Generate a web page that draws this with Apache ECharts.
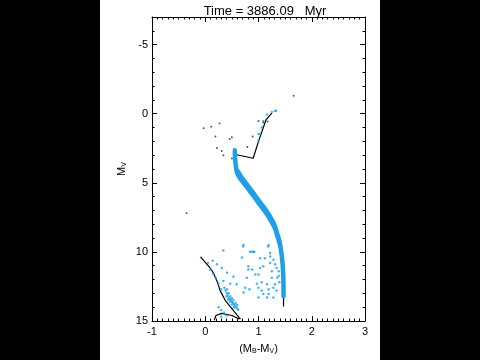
<!DOCTYPE html>
<html>
<head>
<meta charset="utf-8">
<script src="https://cdn.jsdelivr.net/npm/echarts@6/dist/echarts.min.js"></script>
<style>
html,body{margin:0;padding:0;background:#000;}
#wrap{position:relative;width:480px;height:360px;background:#000;}
#paper{position:absolute;left:100px;top:0;width:280px;height:360px;background:#fff;}
#chart{position:absolute;left:0;top:0;width:480px;height:360px;}
</style>
</head>
<body>
<div id="wrap"><div id="paper"></div><div id="chart"></div></div>
<script>
// ---- data ----
const titleText = 'Time = 3886.09   Myr';
const xTickValues = [-1, 0, 1, 2, 3];
const yTickValues = [-5, 0, 5, 10, 15];
const yMinorValues = [-7,-6,-5,-4,-3,-2,-1,0,1,2,3,4,5,6,7,8,9,10,11,12,13,14,15];

// main-sequence ridge (dense blue band)
const msRidge = [[0.555,2.65],[0.56,3.2],[0.575,3.8],[0.6,4.3],[0.66,4.7],[0.72,5.0],[0.82,5.5],[0.91,5.96],[1.0,6.45],[1.09,6.9],[1.18,7.4],[1.25,7.85],[1.31,8.3],[1.35,8.8],[1.39,9.3],[1.42,9.8],[1.44,10.4],[1.455,11.0],[1.465,11.8],[1.47,12.5],[1.47,13.2]];
// upper (binary) edge of the band
const msFringe = [[0.62,4.15],[0.72,4.75],[0.82,5.25],[0.91,5.7],[1.0,6.2],[1.09,6.65],[1.18,7.15],[1.25,7.6],[1.31,8.05],[1.35,8.55],[1.39,9.05],[1.42,9.6]];

// isochrone (black line)
const isochrone = [[1.47,13.95],[1.47,13.2],[1.47,12.5],[1.465,11.8],[1.455,11.0],[1.44,10.4],[1.42,9.8],[1.39,9.3],[1.35,8.8],[1.31,8.3],[1.25,7.85],[1.18,7.4],[1.09,6.9],[1.0,6.45],[0.91,5.96],[0.82,5.5],[0.72,5.0],[0.66,4.7],[0.6,4.3],[0.575,3.8],[0.56,3.2],[0.55,2.75],[0.57,2.95],[0.9,3.22],[1.0,2.0],[1.14,0.45],[1.25,-0.05]];

// lower-left black sequence
const lowerLine = [[-0.08,10.4],[0.09,11.16],[0.15,11.5],[0.22,12.1],[0.28,12.8],[0.375,13.5],[0.5,14.1],[0.625,14.7],[0.66,14.87]];
const lowerHook = [[0.17,14.95],[0.2,14.6],[0.31,14.45],[0.5,14.6],[0.64,14.85]];

// scattered blue stars
const blueStars = [
 [1.0,1.94],[1.03,1.46],[1.06,1.0],[1.09,0.52],[1.16,0.05],[1.25,-0.12],[1.33,-0.21],[1.31,-0.19],[1.0,1.46],
 [0.72,9.5],[0.84,9.98],[0.9,10.0],[1.18,9.6],[1.22,10.07],
 [0.34,9.9],[0.71,9.6],[0.92,9.98],[1.19,9.5],[0.14,10.64],[0.69,10.4],[1.03,10.45],[1.22,10.33],
 [0.31,11.16],[0.41,11.5],[0.53,11.8],[0.81,11.04],[0.88,11.28],[1.0,11.63],[1.09,11.04],[1.25,11.4],
 [0.78,11.87],[0.47,12.3],[0.59,12.34],[0.97,12.3],[1.16,12.34],[1.06,12.8],[1.19,13.05],[1.0,13.3],
 [1.28,12.6],[1.35,11.87],[1.31,10.9],[1.38,11.4],[0.83,12.7],[0.72,12.93],[0.41,12.7],[0.34,12.1],[0.22,10.9],
 [1.41,9.98],[1.28,10.57],[1.34,11.16],[1.25,11.87],[1.31,12.34],[1.19,12.7],[1.34,12.8],[1.09,13.05],
 [1.16,13.3],[1.28,13.3],[1.03,11.16],[0.94,11.63],[0.88,9.98],[0.81,11.28],[1.06,12.2],[1.0,12.6],
 [0.75,12.6],[1.12,10.45],[1.22,10.8],[1.38,11.75],[1.39,12.2],
 [0.36,12.6],[0.38,12.8],[0.40,12.95],[0.42,13.1],[0.44,13.3],[0.46,13.4],[0.48,13.5],[0.50,13.6],
 [0.52,13.7],[0.54,13.8],[0.56,13.9],[0.58,14.0],[0.60,14.1],[0.62,14.2],[0.44,13.0],[0.47,13.2],
 [0.5,13.35],[0.53,13.5],[0.57,13.7],[0.6,13.85],[0.4,13.2],[0.43,13.45],[0.46,13.6],[0.5,13.8],[0.54,14.0],
 [0.3,14.2],[0.35,14.4],[0.25,14.0],[0.4,14.6],[0.3,14.7],
 [0.05,10.8],[0.1,11.3],[0.15,11.6],[0.2,11.9],[0.25,12.3],[0.3,12.7]
];

// scattered dark stars
const darkStars = [
 [0.34,3.0],[0.31,2.7],[0.22,2.48],[0.5,3.24],[0.46,1.82],[0.5,1.7],[0.19,1.65],[-0.03,1.06],[0.11,0.94],
 [0.27,0.71],[0.79,2.41],[0.89,1.65],[1.0,0.52],[1.09,0.64],[1.17,0.57],[-0.35,7.2],[1.66,-1.3],[-0.08,10.4]
];

// ---- chart ----
const chart = echarts.init(document.getElementById('chart'), null, {renderer: 'canvas'});
const FONT = 'Liberation Sans, Arial, Helvetica, sans-serif';
const blue = '#1ea0e8';
const axisLine = {show: true, onZero: false, lineStyle: {color: '#000', width: 1}};

function xAx(pos, labels) {
  return {
    type: 'value', position: pos, min: -1, max: 3, interval: 1,
    axisLine: axisLine,
    axisTick: {show: true, inside: true, length: 5, lineStyle: {color: '#000'}},
    minorTick: {show: true, splitNumber: 10, length: 2.5, lineStyle: {color: '#000'}},
    axisLabel: {show: labels, color: '#000', fontFamily: FONT, fontSize: 11, margin: 5},
    splitLine: {show: false}, minorSplitLine: {show: false},
    name: labels ? '{t|(M}{s|B}{t|-M}{s|V}{t|)}' : '',
    nameLocation: 'middle', nameGap: 21,
    nameTextStyle: {rich: {t: {fontFamily: FONT, fontSize: 11, color: '#000'}, s: {fontFamily: FONT, fontSize: 7, color: '#000', verticalAlign: 'bottom', padding: [6,0,0,0]}}}
  };
}
function yAx(pos, major, labels) {
  return {
    type: 'value', position: pos, min: -7, max: 15, inverse: true,
    axisLine: major ? axisLine : {show: false, onZero: false},
    axisTick: {show: true, inside: true, length: major ? 5 : 2.5, customValues: major ? yTickValues : yMinorValues, lineStyle: {color: '#000'}},
    axisLabel: {show: labels, customValues: yTickValues, color: '#000', fontFamily: FONT, fontSize: 11, margin: 4},
    splitLine: {show: false},
    name: labels ? '{t|M}{s|V}' : '',
    nameLocation: 'middle', nameGap: 24, nameRotate: 90,
    nameTextStyle: {rich: {t: {fontFamily: FONT, fontSize: 11, color: '#000'}, s: {fontFamily: FONT, fontSize: 7, color: '#000', padding: [6,0,0,0]}}}
  };
}

chart.setOption({
  animation: false,
  backgroundColor: 'transparent',
  title: {text: titleText, left: 260, top: 0, textAlign: 'center',
    textStyle: {fontFamily: FONT, fontSize: 13, fontWeight: 'normal', color: '#000'}},
  grid: {left: 152, right: 115, top: 17, bottom: 35},
  xAxis: [xAx('bottom', true), xAx('top', false)],
  yAxis: [yAx('left', true, true), yAx('left', false, false), yAx('right', true, false), yAx('right', false, false)],
  series: [
    {type: 'line', data: isochrone, showSymbol: false, lineStyle: {color: '#000', width: 1.2}, z: 2, silent: true},
    {type: 'line', data: msRidge, showSymbol: false, smooth: 0.3, lineStyle: {color: blue, width: 4.5, cap: 'round', join: 'round'}, z: 3, silent: true},
    {type: 'line', data: msFringe, showSymbol: false, smooth: 0.3, lineStyle: {color: blue, width: 3.5, cap: 'round', join: 'round'}, z: 3, silent: true},
    {type: 'line', data: lowerLine, showSymbol: false, lineStyle: {color: '#000', width: 1.2}, z: 4, silent: true},
    {type: 'line', data: lowerHook, showSymbol: false, lineStyle: {color: '#000', width: 1.2}, z: 4, silent: true},
    {type: 'scatter', data: blueStars, symbol: 'circle', symbolSize: 2.5, itemStyle: {color: blue}, z: 5, silent: true},
    {type: 'scatter', data: darkStars, symbol: 'circle', symbolSize: 2, itemStyle: {color: '#333'}, z: 5, silent: true}
  ]
});
</script>
</body>
</html>
